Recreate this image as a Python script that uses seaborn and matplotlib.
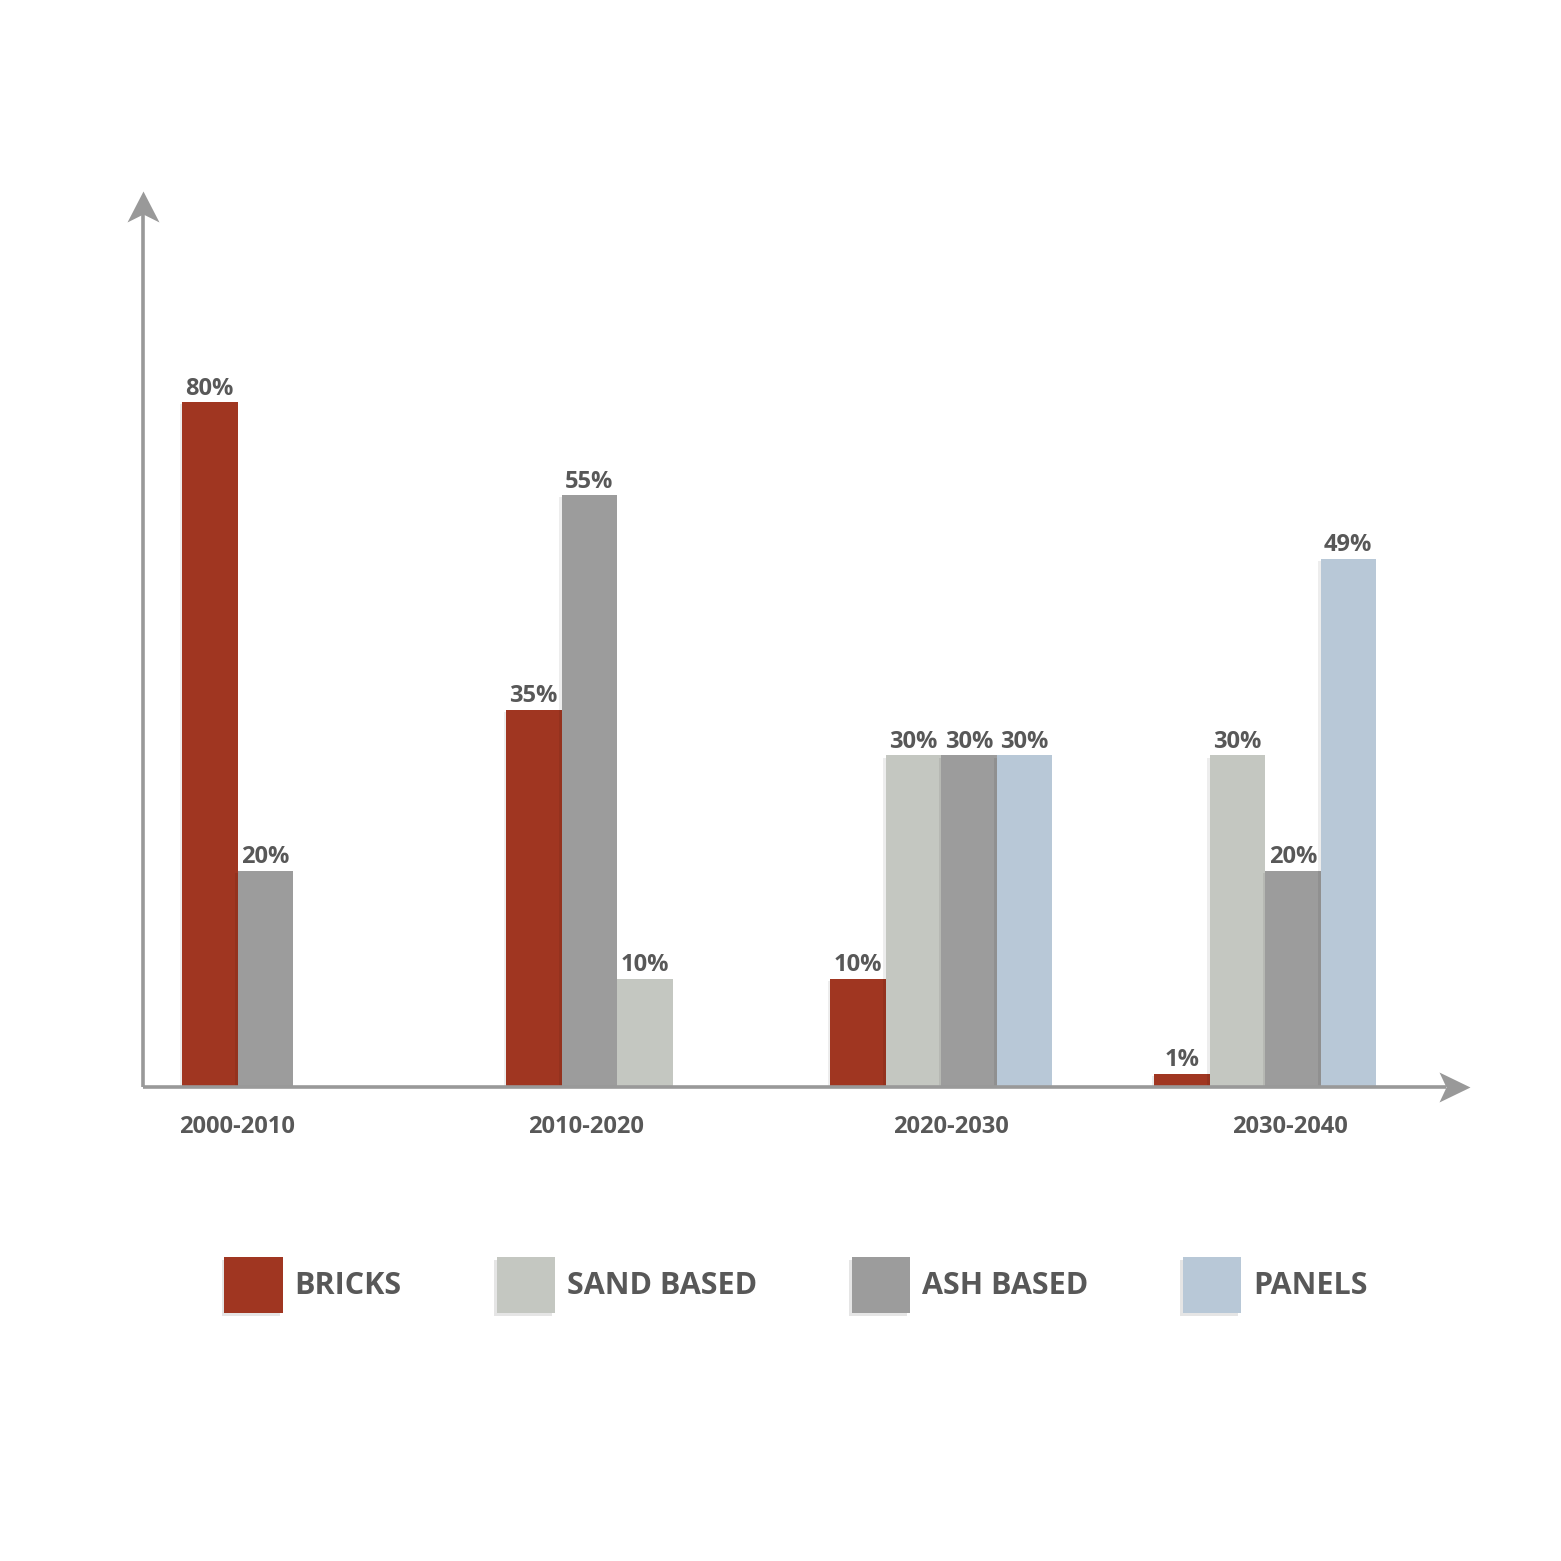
import numpy as np
import pandas as pd
import matplotlib
matplotlib.use("Agg")
import matplotlib.pyplot as plt
import matplotlib.patheffects as pe
from matplotlib.patches import Patch
import seaborn as sns

# ---------------- data ----------------
periods = ["2000-2010", "2010-2020", "2020-2030", "2030-2040"]
materials = ["BRICKS", "SAND BASED", "ASH BASED", "PANELS"]
colors = ["#A03621", "#C4C7C1", "#9C9C9C", "#B8C8D7"]

# bars in drawing order inside each period
bar_period = [0, 0, 1, 1, 1, 2, 2, 2, 2, 3, 3, 3, 3]
bar_material = ["BRICKS", "ASH BASED",
                "BRICKS", "ASH BASED", "SAND BASED",
                "BRICKS", "SAND BASED", "ASH BASED", "PANELS",
                "BRICKS", "SAND BASED", "ASH BASED", "PANELS"]
bar_label = [80, 20, 35, 55, 10, 10, 30, 30, 30, 1, 30, 20, 49]
# heights as drawn in the picture (the 80% bar is drawn shorter than scale)
bar_height = [63.4, 20, 34.9, 54.8, 10, 10, 30.7, 30.7, 30.7, 1.2, 30.7, 20, 48.9]
# x-positions of the period labels (in period units)
tick_pos = [0.17, 1.247, 2.373, 3.42]

# ---------------- layout ----------------
W = 1561
BAR_W = 55.5 / 324.0
TEXT = "#585858"
AXC = "#999999"

sns.set_theme(style="white")
plt.rcParams["font.family"] = ["Open Sans", "DejaVu Sans"]

slots = []
cnt = {}
for p in bar_period:
    slots.append(cnt.get(p, 0))
    cnt[p] = cnt.get(p, 0) + 1
xpos = [p + (s + 0.5) * BAR_W for p, s in zip(bar_period, slots)]

df = pd.DataFrame({"x": xpos, "height": bar_height,
                   "material": bar_material, "label": bar_label})

fig = plt.figure(figsize=(W / 100, W / 100), dpi=100)
fig.patch.set_facecolor("white")
ax = fig.add_axes([143 / W, 474 / W, 1327 / W, 896 / W])

sns.barplot(data=df, x="x", y="height", hue="material", hue_order=materials,
            palette=dict(zip(materials, colors)), native_scale=True, dodge=False,
            width=1.0, orient="x", errorbar=None, saturation=1, legend=False,
            linewidth=0, ax=ax)

for patch in ax.patches:
    patch.set_path_effects([pe.SimplePatchShadow(offset=(-1.5, -1.5), alpha=0.07,
                                                 shadow_rgbFace="black"),
                            pe.Normal()])

ax.set_xlim((143 - 182) / 324.0, (1470 - 182) / 324.0)
ax.set_ylim(0, 896 / 10.8)

for x, h, lab in zip(xpos, bar_height, bar_label):
    ax.annotate(f"{lab}%", (x, h), xytext=(0, 5.5), textcoords="offset points",
                ha="center", va="baseline", fontsize=17, fontweight="bold",
                color=TEXT)

for s in ax.spines.values():
    s.set_visible(False)
ax.set_yticks([])
ax.set_xticks(tick_pos)
ax.set_xticklabels(periods, fontsize=17, fontweight="bold", color=TEXT)
ax.tick_params(axis="x", length=0, pad=20.5)
ax.set_xlabel("")
ax.set_ylabel("")
ax.grid(False)

# axis lines with stealth arrowheads
t = ax.transAxes
ax.plot([0, 1 - 24 / 1327], [0, 0], color=AXC, lw=2.6, transform=t,
        clip_on=False, solid_capstyle="butt", zorder=5)
ax.plot([0, 0], [0, 1 - 22 / 896], color=AXC, lw=2.6, transform=t,
        clip_on=False, solid_capstyle="butt", zorder=5)
right_head = [(0, 0), (-31, 15), (-24, 0), (-31, -15), (0, 0)]
up_head = [(0, 0), (-16, -31), (0, -23), (16, -31), (0, 0)]
ax.plot([1], [0], marker=right_head, markersize=2 * 31 / 1.389, color=AXC,
        markeredgewidth=0, transform=t, clip_on=False, zorder=6)
ax.plot([0], [1], marker=up_head, markersize=2 * 31 / 1.389, color=AXC,
        markeredgewidth=0, transform=t, clip_on=False, zorder=6)

# legend
handles = [Patch(facecolor=c, edgecolor="none") for c in colors]
leg = fig.legend(handles, materials, loc="center", bbox_to_anchor=(0.510, 1 - 1285 / W),
                 ncol=4, frameon=False, prop={"size": 22, "weight": "bold"},
                 labelcolor=TEXT, handlelength=1.9, handleheight=2.44,
                 handletextpad=0.4, columnspacing=3.1)
for h in leg.legend_handles:
    h.set_path_effects([pe.SimplePatchShadow(offset=(-2, -2.5), alpha=0.1,
                                             shadow_rgbFace="black"),
                        pe.Normal()])

fig.savefig("out.png", dpi=100, facecolor="white")
